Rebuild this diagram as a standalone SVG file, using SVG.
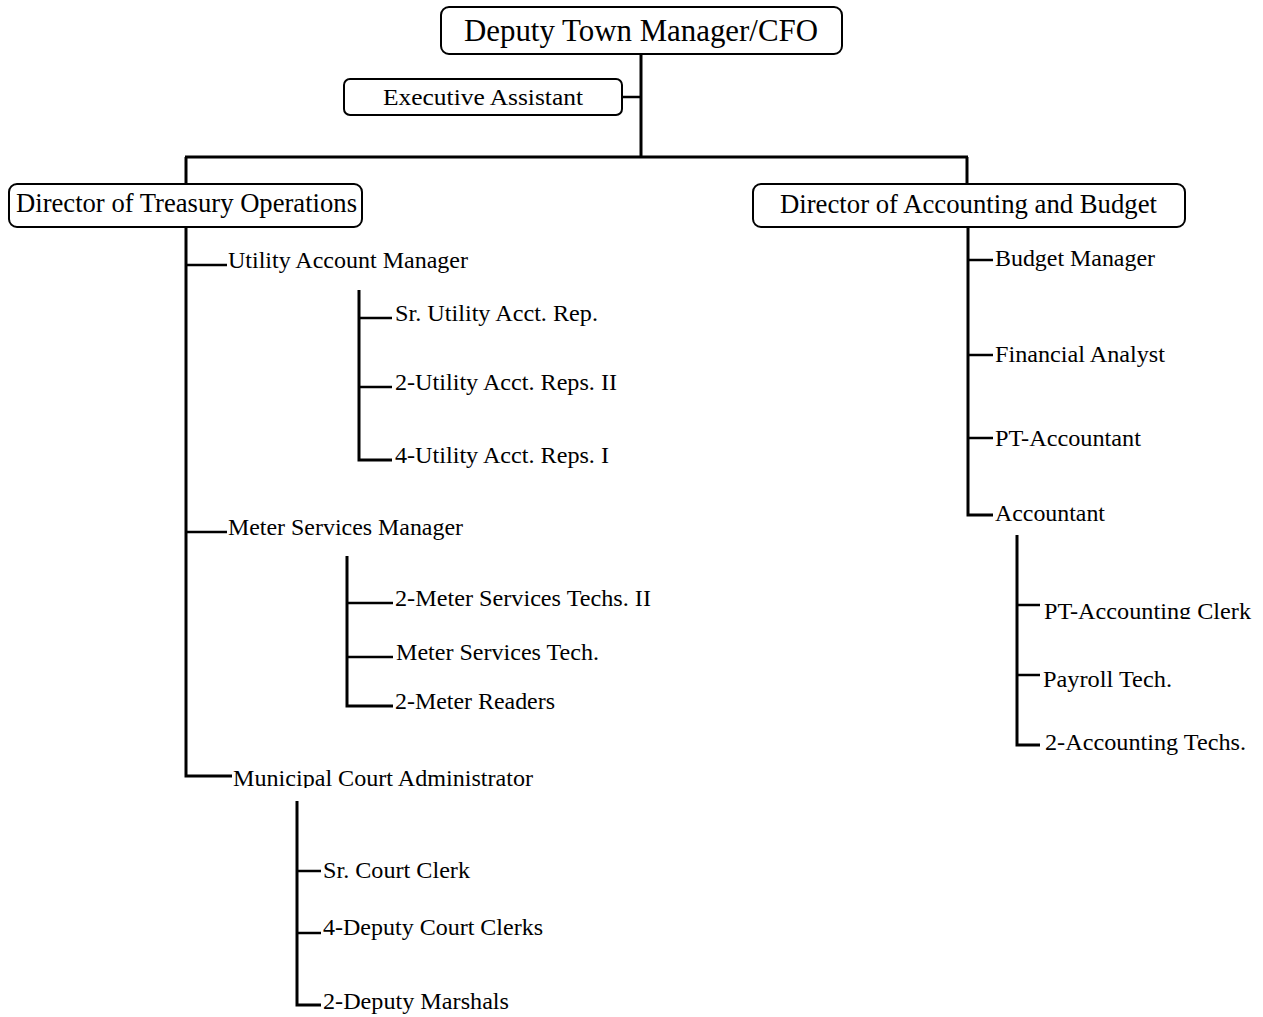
<svg xmlns="http://www.w3.org/2000/svg" width="1263" height="1017" viewBox="0 0 1263 1017">
<style>
text{font-family:"Liberation Serif","Times New Roman",serif;fill:#000}
.box{fill:#fff;stroke:#000;stroke-width:2}
.t{font-size:23.5px}
.lines line, .lines path{stroke:#000;stroke-width:3;fill:none}
.lines .b{stroke-width:2.5}
</style>
<defs>
<clipPath id="clipMCA"><rect x="230" y="760" width="320" height="28"/></clipPath>
<clipPath id="clipPTC"><rect x="1040" y="595" width="223" height="24"/></clipPath>
</defs>
<g class="lines" id="connectors">
<line x1="641" y1="54" x2="641" y2="158"/>
<line x1="622" y1="97" x2="641" y2="97" class="b"/>
<line x1="185" y1="157" x2="968" y2="157"/>
<line x1="186" y1="157" x2="186" y2="185"/>
<line x1="967" y1="157" x2="967" y2="185"/>
<path d="M186 227 V776 H232"/>
<line x1="186" y1="265" x2="227" y2="265" class="b"/>
<line x1="186" y1="532" x2="227" y2="532" class="b"/>
<path d="M359 290 V460 H392"/>
<line x1="359" y1="318" x2="392" y2="318" class="b"/>
<line x1="359" y1="387" x2="392" y2="387" class="b"/>
<path d="M347 556 V706 H393"/>
<line x1="347" y1="603" x2="393" y2="603" class="b"/>
<line x1="347" y1="657" x2="393" y2="657" class="b"/>
<path d="M297 801 V1005 H321"/>
<line x1="297" y1="871" x2="321" y2="871" class="b"/>
<line x1="297" y1="933" x2="321" y2="933" class="b"/>
<path d="M968 227 V515 H993"/>
<line x1="968" y1="260" x2="993" y2="260" class="b"/>
<line x1="968" y1="355" x2="993" y2="355" class="b"/>
<line x1="968" y1="438" x2="993" y2="438" class="b"/>
<path d="M1017 535 V745 H1040"/>
<line x1="1017" y1="605" x2="1040" y2="605" class="b"/>
<line x1="1017" y1="675" x2="1040" y2="675" class="b"/>
</g>
<g id="n-dtm"><rect class="box" x="441" y="7" width="401" height="47" rx="8"/><text x="464" y="41" font-size="31" textLength="354" lengthAdjust="spacingAndGlyphs">Deputy Town Manager/CFO</text></g>
<g id="n-ea"><rect class="box" x="344" y="79" width="278" height="36" rx="6"/><text x="383" y="105" font-size="24" textLength="200" lengthAdjust="spacingAndGlyphs">Executive Assistant</text></g>
<g id="n-dto"><rect class="box" x="9" y="184" width="353" height="43" rx="8"/><text x="16" y="212" font-size="26.5" textLength="341" lengthAdjust="spacingAndGlyphs">Director of Treasury Operations</text></g>
<g id="n-dab"><rect class="box" x="753" y="184" width="432" height="43" rx="8"/><text x="780" y="213" font-size="26.5" textLength="377" lengthAdjust="spacingAndGlyphs">Director of Accounting and Budget</text></g>
<g id="n-uam"><text class="t" x="228" y="268" textLength="240" lengthAdjust="spacingAndGlyphs">Utility Account Manager</text></g>
<g id="n-suar"><text class="t" x="395" y="321" textLength="203" lengthAdjust="spacingAndGlyphs">Sr. Utility Acct. Rep.</text></g>
<g id="n-uar2"><text class="t" x="395" y="390" textLength="222" lengthAdjust="spacingAndGlyphs">2-Utility Acct. Reps. II</text></g>
<g id="n-uar1"><text class="t" x="395" y="463" textLength="214" lengthAdjust="spacingAndGlyphs">4-Utility Acct. Reps. I</text></g>
<g id="n-msm"><text class="t" x="228" y="535" textLength="235" lengthAdjust="spacingAndGlyphs">Meter Services Manager</text></g>
<g id="n-mst2"><text class="t" x="395" y="606" textLength="256" lengthAdjust="spacingAndGlyphs">2-Meter Services Techs. II</text></g>
<g id="n-mst"><text class="t" x="396" y="660" textLength="203" lengthAdjust="spacingAndGlyphs">Meter Services Tech.</text></g>
<g id="n-mr"><text class="t" x="395" y="709" textLength="160" lengthAdjust="spacingAndGlyphs">2-Meter Readers</text></g>
<g id="n-mca"><text class="t" x="233" y="786" clip-path="url(#clipMCA)" textLength="300" lengthAdjust="spacingAndGlyphs">Municipal Court Administrator</text></g>
<g id="n-scc"><text class="t" x="323" y="878" textLength="147" lengthAdjust="spacingAndGlyphs">Sr. Court Clerk</text></g>
<g id="n-dcc"><text class="t" x="323" y="935" textLength="220" lengthAdjust="spacingAndGlyphs">4-Deputy Court Clerks</text></g>
<g id="n-dm"><text class="t" x="323" y="1009" textLength="186" lengthAdjust="spacingAndGlyphs">2-Deputy Marshals</text></g>
<g id="n-bm"><text class="t" x="995" y="266" textLength="160" lengthAdjust="spacingAndGlyphs">Budget Manager</text></g>
<g id="n-fa"><text class="t" x="995" y="362" textLength="170" lengthAdjust="spacingAndGlyphs">Financial Analyst</text></g>
<g id="n-pta"><text class="t" x="995" y="446" textLength="146" lengthAdjust="spacingAndGlyphs">PT-Accountant</text></g>
<g id="n-acc"><text class="t" x="995" y="521" textLength="110" lengthAdjust="spacingAndGlyphs">Accountant</text></g>
<g id="n-ptac"><text class="t" x="1044" y="619" clip-path="url(#clipPTC)" textLength="207" lengthAdjust="spacingAndGlyphs">PT-Accounting Clerk</text></g>
<g id="n-pt"><text class="t" x="1043" y="687" textLength="129" lengthAdjust="spacingAndGlyphs">Payroll Tech.</text></g>
<g id="n-at"><text class="t" x="1045" y="750" textLength="201" lengthAdjust="spacingAndGlyphs">2-Accounting Techs.</text></g>
</svg>
